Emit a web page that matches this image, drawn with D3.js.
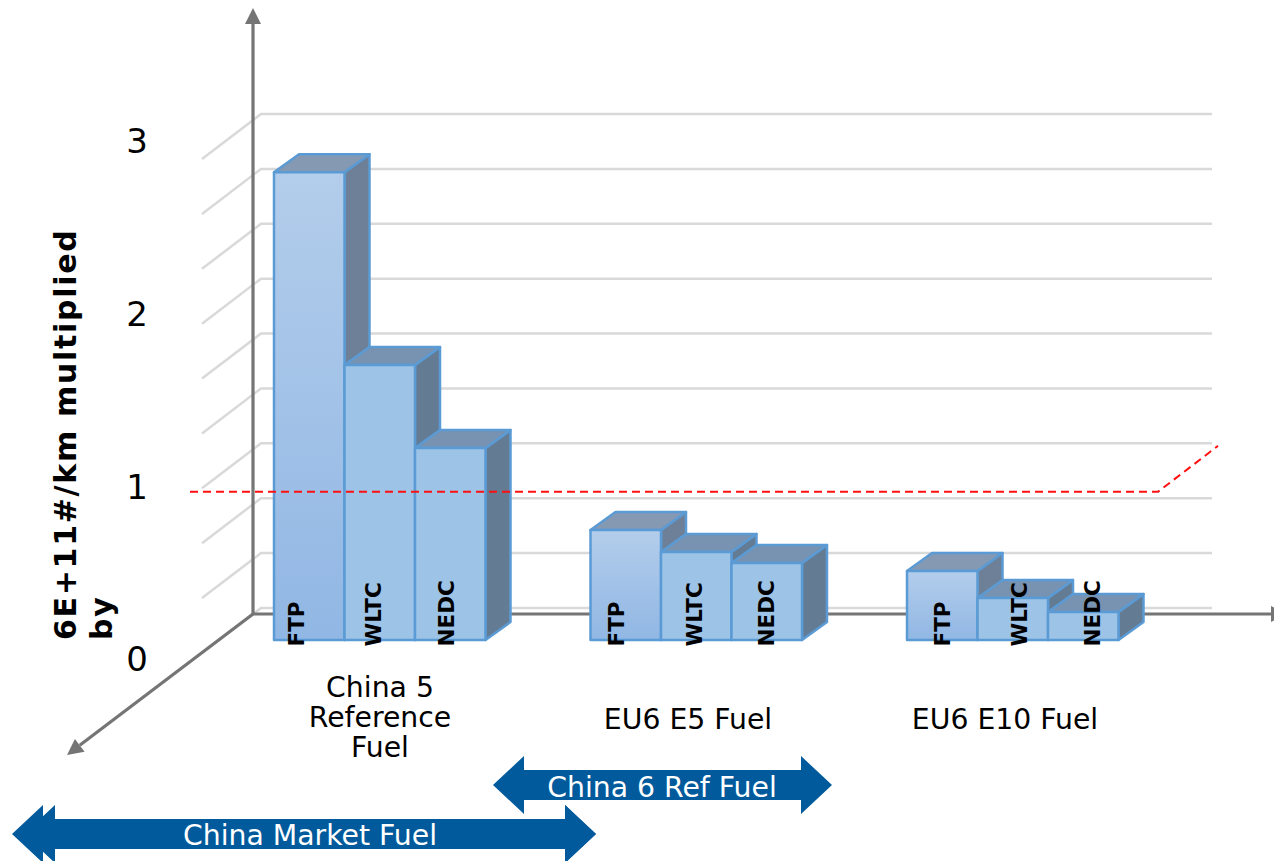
<!DOCTYPE html>
<html>
<head>
<meta charset="utf-8">
<script src="https://cdn.jsdelivr.net/npm/d3@7"></script>
<style>
html,body{margin:0;padding:0;background:#fff;overflow:hidden}
svg{display:block}
text{font-family:"DejaVu Sans",sans-serif}
</style>
</head>
<body>
<svg id="chart" width="1274" height="861"></svg>
<script>
// Particle number results per fuel and drive cycle
const fuels = ["China 5 Reference Fuel", "EU6 E5 Fuel", "EU6 E10 Fuel"];
const cycles = ["FTP", "WLTC", "NEDC"];
const ftpValues = [2.84, 0.668, 0.419];
const wltcValues = [1.67, 0.534, 0.255];
const nedcValues = [1.166, 0.467, 0.17];
const tickLabels = [0, 1, 2, 3];
const gridValues = [0, 1/3, 2/3, 1, 4/3, 5/3, 2, 7/3, 8/3, 3];
const limitValue = 1;
const fuelRanges = ["China 6 Ref Fuel", "China Market Fuel"];

const svg = d3.select("#chart");
const seriesValues = [ftpValues, wltcValues, nedcValues];

// Height above a plane's floor, and the horizontal placement of groups and bars
const rise = d3.scaleLinear().domain([0, 3]).range([0, 494]);
const groupX = d3.scaleLinear().domain([0, 2]).range([274, 907]);
const barX = d3.scaleBand().domain(cycles).range([0, 211.5]);
const tickY = d3.scaleLinear().domain([0, 3]).range([659, 141]);

const barFloor = 640, depthX = 25, depthY = -18;
const wallFrontFloor = 653, wallBackFloor = 608;
const wallFrontX = 202, wallBackX = 261, wallRight = 1212;

const defs = svg.append("defs");
const ftpGrad = defs.append("linearGradient").attr("id", "ftpFace")
  .attr("x1", 0).attr("x2", 0).attr("y1", 0).attr("y2", 1);
ftpGrad.append("stop").attr("offset", 0).attr("stop-color", "#b3cdeb");
ftpGrad.append("stop").attr("offset", 1).attr("stop-color", "#91b7e4");

// Grey wall and side lines
const line = d3.line();
svg.append("g").selectAll("path").data(gridValues).join("path")
  .attr("d", v => line([
    [wallFrontX, wallFrontFloor - rise(v)],
    [wallBackX, wallBackFloor - rise(v)],
    [wallRight, wallBackFloor - rise(v)]
  ]))
  .attr("fill", "none").attr("stroke", "#d9d9d9").attr("stroke-width", 2.5);

// Three axes meeting at the far corner of the floor
const corner = [253, 614];
function axisWithHead(tip, headLen, halfWidth) {
  const dx = tip[0] - corner[0], dy = tip[1] - corner[1];
  const len = Math.hypot(dx, dy), ux = dx / len, uy = dy / len;
  const bx = tip[0] - ux * headLen, by = tip[1] - uy * headLen;
  const axisG = svg.append("g");
  axisG.append("path").attr("d", line([corner, [bx, by]]))
    .attr("stroke", "#757575").attr("stroke-width", 3.2).attr("fill", "none");
  axisG.append("path")
    .attr("d", line([tip, [bx - uy * halfWidth, by + ux * halfWidth], [bx + uy * halfWidth, by - ux * halfWidth]]) + "Z")
    .attr("fill", "#757575");
}
axisWithHead([253, 8], 16, 8);
axisWithHead([1287, 614], 16, 8);
axisWithHead([67, 755], 16, 8);

// Extruded bars, painted left to right so each one covers its neighbour's side
const rows = [];
fuels.forEach((fuel, g) => cycles.forEach((cycle, s) => {
  rows.push({ g, s, cycle, value: seriesValues[s][g] });
}));
const edge = "#5b9bd5";
const bars = svg.append("g").selectAll("g").data(rows).join("g")
  .attr("stroke", edge).attr("stroke-width", 2.5).attr("stroke-linejoin", "round");
const x0 = d => groupX(d.g) + barX(d.cycle);
const x1 = d => x0(d) + barX.bandwidth();
const barTop = d => barFloor - rise(d.value);
bars.append("path")
  .attr("d", d => line([[x1(d), barFloor], [x1(d) + depthX, barFloor + depthY], [x1(d) + depthX, barTop(d) + depthY], [x1(d), barTop(d)]]) + "Z")
  .attr("fill", d => d.s === 0 ? "#6e8097" : "#647b94");
bars.append("path")
  .attr("d", d => line([[x0(d), barTop(d)], [x0(d) + depthX, barTop(d) + depthY], [x1(d) + depthX, barTop(d) + depthY], [x1(d), barTop(d)]]) + "Z")
  .attr("fill", d => d.s === 0 ? "#8599b3" : "#7893b1");
bars.append("rect")
  .attr("x", x0).attr("y", barTop)
  .attr("width", barX.bandwidth()).attr("height", d => rise(d.value))
  .attr("fill", d => d.s === 0 ? "url(#ftpFace)" : "#9dc3e6");

// Limit line running along the front plane and back up to the wall
const limitFloor = 656.5;
svg.append("path")
  .attr("d", line([[190, limitFloor - rise(limitValue)], [1158, limitFloor - rise(limitValue)], [1218, limitFloor - rise(limitValue) - 46]]))
  .attr("fill", "none").attr("stroke", "#ff1010").attr("stroke-width", 2).attr("stroke-dasharray", "8 5");

// Cycle names written up each bar, nudged per group so they sit where they read best
const cycleOffset = { FTP: 22, WLTC: 29, NEDC: 31 };
const groupNudge = [0, 4, 13];
svg.append("g").selectAll("text").data(rows).join("text")
  .attr("transform", d => `translate(${x0(d) + cycleOffset[d.cycle] + groupNudge[d.g]},646.5) rotate(-90)`)
  .attr("dy", "0.36em")
  .attr("font-size", 21.5).attr("font-weight", "bold").attr("fill", "#000")
  .text(d => d.cycle);

// Value labels
svg.append("g").selectAll("text").data(tickLabels).join("text")
  .attr("x", 137).attr("y", d => tickY(d))
  .attr("dy", "0.36em").attr("text-anchor", "middle")
  .attr("font-size", 34).attr("fill", "#000")
  .text(d => d);

// Axis title on two rotated lines
const title = svg.append("g").attr("transform", "translate(0,640) rotate(-90)")
  .attr("font-size", 30).attr("font-weight", "bold").attr("letter-spacing", 1.7).attr("fill", "#000");
title.append("text").attr("x", 0).attr("y", 76).text("6E+11#/km multiplied");
title.append("text").attr("x", 0).attr("y", 112).text("by");

// Fuel names under each group
const fuelLines = [["China 5", "Reference", "Fuel"], ["EU6 E5 Fuel"], ["EU6 E10 Fuel"]];
const fuelCentre = [380, 688, 1005];
fuelLines.forEach((lines, i) => {
  const startY = lines.length === 1 ? 729 : 697;
  svg.append("g").selectAll("text").data(lines).join("text")
    .attr("x", fuelCentre[i]).attr("y", (d, k) => startY + k * 30)
    .attr("text-anchor", "middle").attr("font-size", 28.3).attr("fill", "#000")
    .text(d => d);
});

// Double-headed range arrows naming the fuels each standard covers
function rangeArrow(xl, xr, cy, headLen, headH, bodyH) {
  const h = d3.path();
  h.moveTo(xl, cy);
  h.lineTo(xl + headLen, cy - headH);
  h.lineTo(xl + headLen, cy - bodyH);
  h.lineTo(xr - headLen, cy - bodyH);
  h.lineTo(xr - headLen, cy - headH);
  h.lineTo(xr, cy);
  h.lineTo(xr - headLen, cy + headH);
  h.lineTo(xr - headLen, cy + bodyH);
  h.lineTo(xl + headLen, cy + bodyH);
  h.lineTo(xl + headLen, cy + headH);
  h.closePath();
  return h.toString();
}
const blue = "#005a9b";
svg.append("path").attr("d", rangeArrow(493, 832, 785, 31, 29, 15)).attr("fill", blue);
svg.append("path").attr("d", rangeArrow(24, 596, 834, 31, 29, 15)).attr("fill", blue);
svg.append("path").attr("d", rangeArrow(12, 596, 834, 31, 29, 15)).attr("fill", blue);
svg.append("text").attr("x", 662).attr("y", 797).attr("text-anchor", "middle")
  .attr("font-size", 28.3).attr("fill", "#fff").text(fuelRanges[0]);
svg.append("text").attr("x", 310).attr("y", 845).attr("text-anchor", "middle")
  .attr("font-size", 28.3).attr("fill", "#fff").text(fuelRanges[1]);
</script>
</body>
</html>
